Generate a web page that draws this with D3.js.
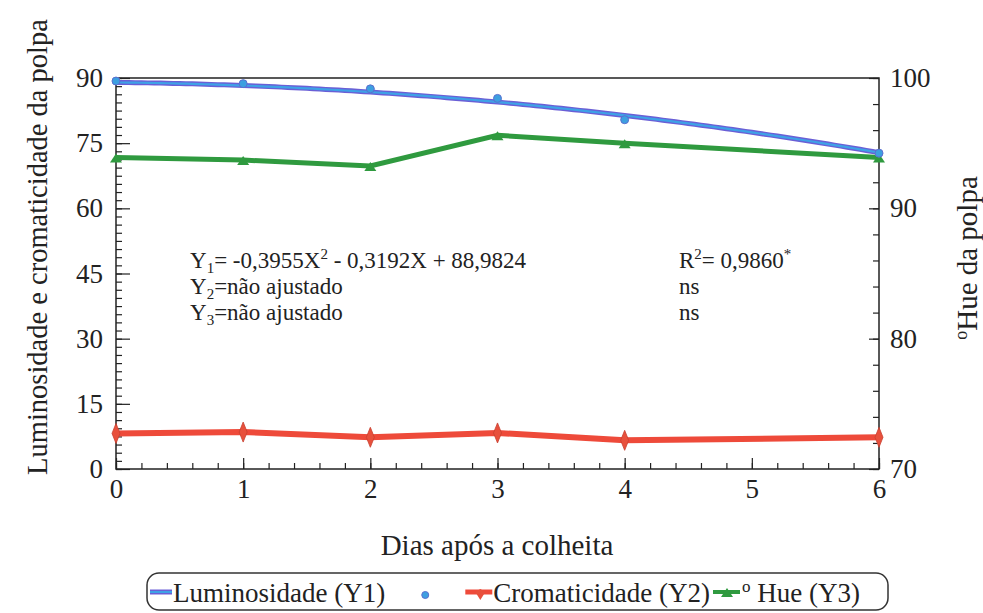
<!DOCTYPE html>
<html>
<head>
<meta charset="utf-8">
<script src="https://cdn.jsdelivr.net/npm/d3@7"></script>
<style>
  body { margin: 0; background: #fff; }
  svg text { font-family: "Liberation Serif", "Tinos", "Times New Roman", "DejaVu Serif", serif; fill: #222; }
</style>
</head>
<body>
<svg id="viz"></svg>
<script>
// days after harvest
const days = [0, 1, 2, 3, 4, 6];
const luminosidade = [89.3, 88.7, 87.5, 85.3, 80.4, 72.7];
const cromaticidade = [8.2, 8.5, 7.3, 8.3, 6.6, 7.3];
const hue = [93.9, 93.7, 93.25, 95.6, 95.0, 93.9];
// fitted Y1 = -0,3955X^2 - 0,3192X + 88,9824
const fitCoef = [-0.3955, -0.3192, 88.9824];

const xTicks = [0, 1, 2, 3, 4, 5, 6];
const leftTicks = [0, 15, 30, 45, 60, 75, 90];
const rightTicks = [70, 80, 90, 100];

const width = 983, height = 613;
const m = { left: 116, right: 879, top: 78, bottom: 469 };

const svg = d3.select("#viz").attr("width", width).attr("height", height);

const x = d3.scaleLinear().domain([0, 6]).range([m.left, m.right]);
const yL = d3.scaleLinear().domain([0, 90]).range([m.bottom, m.top]);
const yR = d3.scaleLinear().domain([70, 100]).range([m.bottom, m.top]);

// frame
svg.append("rect")
    .attr("x", m.left).attr("y", m.top)
    .attr("width", m.right - m.left).attr("height", m.bottom - m.top)
    .attr("fill", "none").attr("stroke", "#222").attr("stroke-width", 1.5);

// minor ticks
const xMinor = d3.range(0, 6.001, 0.2);
const lMinor = d3.range(0, 90.001, 15 / 8);
const rMinor = d3.range(70, 100.001, 2);

svg.append("g").attr("transform", `translate(0,${m.bottom})`)
    .call(d3.axisBottom(x).tickValues(xMinor).tickSize(-6).tickFormat(""));
svg.append("g").attr("transform", `translate(0,${m.bottom})`)
    .call(d3.axisBottom(x).tickValues(xTicks).tickSize(-11).tickPadding(10).tickFormat(d3.format("d")));

svg.append("g").attr("transform", `translate(${m.left},0)`)
    .call(d3.axisLeft(yL).tickValues(lMinor).tickSize(-6).tickFormat(""));
svg.append("g").attr("transform", `translate(${m.left},0)`)
    .call(d3.axisLeft(yL).tickValues(leftTicks).tickSize(-14).tickPadding(13));

svg.append("g").attr("transform", `translate(${m.right},0)`)
    .call(d3.axisRight(yR).tickValues(rMinor).tickSize(-6).tickFormat(""));
svg.append("g").attr("transform", `translate(${m.right},0)`)
    .call(d3.axisRight(yR).tickValues(rightTicks).tickSize(-10).tickPadding(11));

svg.selectAll(".domain").remove();
svg.selectAll("g").attr("font-family", null);
svg.selectAll(".tick line").attr("stroke", "#222").attr("stroke-width", 1.2);
svg.selectAll(".tick text").style("font-size", "27px").attr("fill", "#222");

// axis titles
svg.append("text")
    .attr("transform", `translate(47,247) rotate(-90)`)
    .attr("text-anchor", "middle").style("font-size", "28.5px")
    .text("Luminosidade e cromaticidade da polpa");

const rt = svg.append("text")
    .attr("transform", `translate(977,258) rotate(-90)`)
    .attr("text-anchor", "middle").style("font-size", "29px");
rt.append("tspan").attr("dy", "-10").style("font-size", "18px").text("o");
rt.append("tspan").attr("dy", "10").text("Hue da polpa");

svg.append("text")
    .attr("x", 497).attr("y", 555)
    .attr("text-anchor", "middle").style("font-size", "29px")
    .text("Dias após a colheita");

// lines
const fitPts = d3.range(0, 6.001, 0.05).map(function (t) {
    return [t, fitCoef[0] * t * t + fitCoef[1] * t + fitCoef[2]];
});
const lineFit = d3.line().x(d => x(d[0])).y(d => yL(d[1]));
const lineL = d3.line().x((d, i) => x(days[i])).y(d => yL(d));
const lineR = d3.line().x((d, i) => x(days[i])).y(d => yR(d));

// cromaticidade (red)
svg.append("path").datum(cromaticidade).attr("d", lineL)
    .attr("fill", "none").attr("stroke", "#ee4a3a").attr("stroke-width", 6);
svg.append("g").selectAll("path").data(cromaticidade).enter().append("path")
    .attr("transform", (d, i) => `translate(${x(days[i])},${yL(d)})`)
    .attr("d", "M0,-10 L4,0 L0,10 L-4,0 Z")
    .attr("fill", "#e8503c").attr("stroke", "#c84030").attr("stroke-width", 0.8);

// hue (green)
svg.append("path").datum(hue).attr("d", lineR)
    .attr("fill", "none").attr("stroke", "#2f9a3f").attr("stroke-width", 5);
svg.append("g").selectAll("path").data(hue).enter().append("path")
    .attr("transform", (d, i) => `translate(${x(days[i])},${yR(d)})`)
    .attr("d", "M-6,5 L6,5 L0,-4 Z")
    .attr("fill", "#2f9a3f");

// luminosidade fitted curve (blue) + observed points
svg.append("path").datum(fitPts).attr("d", lineFit)
    .attr("fill", "none").attr("stroke", "#6a5fd6").attr("stroke-width", 5);
svg.append("path").datum(fitPts).attr("d", lineFit)
    .attr("fill", "none").attr("stroke", "#3ea2e6").attr("stroke-width", 2.2);
svg.append("g").selectAll("circle").data(luminosidade).enter().append("circle")
    .attr("cx", (d, i) => x(days[i])).attr("cy", d => yL(d))
    .attr("r", 4).attr("fill", "#3d9fe0").attr("stroke", "#5b6fd0").attr("stroke-width", 1);

// equations
const eq = svg.append("g").style("font-size", "23px");
const t1 = eq.append("text").attr("x", 190).attr("y", 268);
t1.append("tspan").text("Y");
t1.append("tspan").attr("dy", 5).style("font-size", "15px").text("1");
t1.append("tspan").attr("dy", -5).text("= -0,3955X");
t1.append("tspan").attr("dy", -9).style("font-size", "15px").text("2");
t1.append("tspan").attr("dy", 9).text(" - 0,3192X + 88,9824");

const t2 = eq.append("text").attr("x", 190).attr("y", 294);
t2.append("tspan").text("Y");
t2.append("tspan").attr("dy", 5).style("font-size", "15px").text("2");
t2.append("tspan").attr("dy", -5).text("=não ajustado");

const t3 = eq.append("text").attr("x", 190).attr("y", 320);
t3.append("tspan").text("Y");
t3.append("tspan").attr("dy", 5).style("font-size", "15px").text("3");
t3.append("tspan").attr("dy", -5).text("=não ajustado");

const r1 = eq.append("text").attr("x", 679).attr("y", 268);
r1.append("tspan").text("R");
r1.append("tspan").attr("dy", -9).style("font-size", "15px").text("2");
r1.append("tspan").attr("dy", 9).text("= 0,9860");
r1.append("tspan").attr("dy", -9).style("font-size", "15px").text("*");
eq.append("text").attr("x", 679).attr("y", 294).text("ns");
eq.append("text").attr("x", 679).attr("y", 320).text("ns");

// legend
const lg = svg.append("g");
lg.append("rect").attr("x", 147).attr("y", 573).attr("width", 741).attr("height", 37)
    .attr("rx", 12).attr("fill", "none").attr("stroke", "#333").attr("stroke-width", 1.5);
const ly = 592, lfs = "27px";

// right-hand items first, so the cluster "(Y2)-+-o Hue (Y3)" ends at the box edge
const hl = lg.append("text").attr("x", 742).attr("y", ly + 10).style("font-size", lfs);
hl.append("tspan").attr("dy", -10).style("font-size", "17px").text("o");
hl.append("tspan").attr("dy", 10).text(" Hue (Y3)");
lg.append("line").attr("x1", 713).attr("x2", 740).attr("y1", ly).attr("y2", ly)
    .attr("stroke", "#2f9a3f").attr("stroke-width", 4);
lg.append("path").attr("transform", `translate(727,${ly})`)
    .attr("d", "M-6,5 L6,5 L0,-4 Z").attr("fill", "#2f9a3f");

const crom = lg.append("text").attr("y", ly + 10).style("font-size", lfs).text("Cromaticidade (Y2)");
const cromX = 710 - crom.node().getComputedTextLength();
crom.attr("x", cromX);
lg.append("line").attr("x1", cromX - 28).attr("x2", cromX - 1).attr("y1", ly).attr("y2", ly)
    .attr("stroke", "#ee4a3a").attr("stroke-width", 5);
lg.append("path").attr("transform", `translate(${cromX - 13},${ly})`)
    .attr("d", "M0,-3 L5,0 L0,8 L-5,0 Z").attr("fill", "#e8503c");

lg.append("line").attr("x1", 150).attr("x2", 172).attr("y1", ly).attr("y2", ly)
    .attr("stroke", "#6a5fd6").attr("stroke-width", 5);
lg.append("line").attr("x1", 150).attr("x2", 172).attr("y1", ly).attr("y2", ly)
    .attr("stroke", "#3ea2e6").attr("stroke-width", 2);
const lum = lg.append("text").attr("x", 173).attr("y", ly + 10).style("font-size", lfs).text("Luminosidade (Y1)");
const lumEnd = 173 + lum.node().getComputedTextLength();
lg.append("circle").attr("cx", (lumEnd + cromX - 28) / 2).attr("cy", ly + 3).attr("r", 3.5)
    .attr("fill", "#3d9fe0").attr("stroke", "#5b6fd0");
</script>
</body>
</html>
